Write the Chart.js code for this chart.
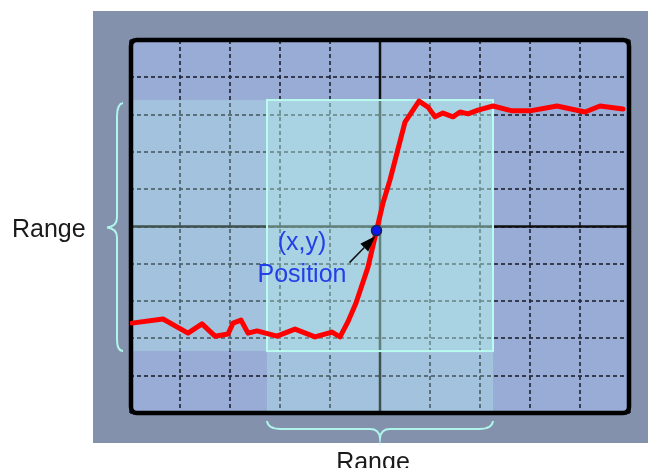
<!DOCTYPE html>
<html><head><meta charset="utf-8">
<script src="https://cdn.jsdelivr.net/npm/chart.js@4/dist/chart.umd.min.js"></script>
<style>html,body{margin:0;padding:0;background:#fff;}canvas{display:block;}</style>
</head><body>
<canvas id="c" width="648" height="468" style="width:648px;height:468px"></canvas>
<script>
// Trace (screen divisions: x 0..10, y 0..10)
const traceX = [0.04,0.66,1.16,1.44,1.70,1.96,2.06,2.22,2.36,2.54,2.94,3.30,3.70,4.04,4.20,4.36,4.52,4.76,4.93,5.06,5.20,5.50,5.78,5.96,6.10,6.26,6.46,6.60,6.76,6.96,7.26,7.64,8.00,8.54,9.10,9.40,9.86];
const traceY = [2.41,2.52,2.14,2.39,2.06,2.12,2.41,2.49,2.14,2.20,2.06,2.25,2.04,2.17,2.04,2.45,2.95,3.91,4.89,5.63,6.25,7.80,8.36,8.20,7.94,8.04,7.94,8.07,8.02,8.12,8.23,8.10,8.10,8.23,8.07,8.23,8.15];
const positionPoint = [4.93, 4.89];
const divisionsX = [0,10];
const divisionsY = [0,10];
const rangeX = [2.74, 7.26];
const rangeY = [1.66, 8.39];
const textRange = 'Range';
const textXY = '(x,y)';
const textPosition = 'Position';

const FONT = '25px "Liberation Sans", Arial, sans-serif';

function rr(ctx, x, y, w, h, r) {
  ctx.beginPath();
  ctx.moveTo(x + r, y);
  ctx.lineTo(x + w - r, y);
  ctx.quadraticCurveTo(x + w, y, x + w, y + r);
  ctx.lineTo(x + w, y + h - r);
  ctx.quadraticCurveTo(x + w, y + h, x + w - r, y + h);
  ctx.lineTo(x + r, y + h);
  ctx.quadraticCurveTo(x, y + h, x, y + h - r);
  ctx.lineTo(x, y + r);
  ctx.quadraticCurveTo(x, y, x + r, y);
  ctx.closePath();
}

const scopePlugin = {
  id: 'scope',
  beforeDraw(chart) {
    const ctx = chart.ctx, a = chart.chartArea;
    ctx.save();
    ctx.fillStyle = '#ffffff';
    ctx.fillRect(0, 0, chart.width, chart.height);
    ctx.fillStyle = '#8391ac';
    ctx.fillRect(93, 11, chart.width - 93, 432);
    ctx.fillStyle = '#99acd6';
    rr(ctx, a.left, a.top, a.right - a.left, a.bottom - a.top, 6);
    ctx.fill();
    ctx.restore();
  },
  beforeDatasetsDraw(chart) {
    const ctx = chart.ctx, a = chart.chartArea;
    const xs = chart.scales.x, ys = chart.scales.y;
    const cx = xs.getPixelForValue(5), cy = ys.getPixelForValue(5);
    ctx.save();
    ctx.strokeStyle = '#111111';
    ctx.lineWidth = 2.5;
    ctx.beginPath();
    ctx.moveTo(cx, a.top); ctx.lineTo(cx, a.bottom);
    ctx.moveTo(a.left, cy); ctx.lineTo(a.right, cy);
    ctx.stroke();
    const x0 = xs.getPixelForValue(rangeX[0]), x1 = xs.getPixelForValue(rangeX[1]);
    const y0 = ys.getPixelForValue(rangeY[1]), y1 = ys.getPixelForValue(rangeY[0]);
    ctx.fillStyle = 'rgba(190,255,240,0.27)';
    ctx.fillRect(a.left, y0, x1 - a.left, y1 - y0);
    ctx.fillRect(x0, y0, x1 - x0, a.bottom - y0);
    ctx.strokeStyle = '#b9fbef';
    ctx.lineWidth = 2;
    ctx.strokeRect(x0, y0, x1 - x0, y1 - y0);
    ctx.strokeStyle = '#000000';
    ctx.lineWidth = 4.5;
    rr(ctx, a.left + 1, a.top, a.right - a.left - 2, a.bottom - a.top, 6);
    ctx.stroke();
    ctx.restore();
  },
  afterDatasetsDraw(chart) {
    const ctx = chart.ctx, a = chart.chartArea;
    const xs = chart.scales.x, ys = chart.scales.y;
    const px = xs.getPixelForValue(positionPoint[0]), py = ys.getPixelForValue(positionPoint[1]);
    const x0 = xs.getPixelForValue(rangeX[0]), x1 = xs.getPixelForValue(rangeX[1]);
    const y0 = ys.getPixelForValue(rangeY[1]), y1 = ys.getPixelForValue(rangeY[0]);
    const cx = xs.getPixelForValue(5), cy = ys.getPixelForValue(5);
    ctx.save();
    // arrow
    const tx = px - 1, ty = py + 5.5;
    const sx = px - 27, sy = py + 32;
    const dx = tx - sx, dy = ty - sy, L = Math.hypot(dx, dy);
    const ux = dx / L, uy = dy / L;
    const bx = tx - ux * 16, by = ty - uy * 16;
    ctx.strokeStyle = '#111';
    ctx.lineWidth = 1.5;
    ctx.beginPath(); ctx.moveTo(sx, sy); ctx.lineTo(bx, by); ctx.stroke();
    ctx.fillStyle = '#000';
    ctx.beginPath();
    ctx.moveTo(tx, ty);
    ctx.lineTo(bx - uy * 5.5, by + ux * 5.5);
    ctx.lineTo(bx + uy * 5.5, by - ux * 5.5);
    ctx.closePath(); ctx.fill();
    // texts
    ctx.font = FONT;
    ctx.fillStyle = '#2340e8';
    ctx.textAlign = 'center';
    ctx.textBaseline = 'alphabetic';
    ctx.fillText(textXY, 302, 250);
    ctx.fillText(textPosition, 302, 282);
    ctx.fillStyle = '#1a1a1a';
    ctx.textAlign = 'left';
    ctx.fillText(textRange, 12, 237);
    ctx.textAlign = 'center';
    ctx.fillText(textRange, 373, 470);
    // braces
    ctx.strokeStyle = '#b0f5ea';
    ctx.lineWidth = 2;
    const bxl = 117, tipL = 107;
    ctx.beginPath();
    ctx.moveTo(bxl + 6, y0 + 3);
    ctx.quadraticCurveTo(bxl, y0 + 4, bxl, y0 + 16);
    ctx.lineTo(bxl, cy - 9);
    ctx.quadraticCurveTo(bxl, cy, tipL, cy + 1);
    ctx.quadraticCurveTo(bxl, cy + 2, bxl, cy + 11);
    ctx.lineTo(bxl, y1 - 12);
    ctx.quadraticCurveTo(bxl, y1, bxl + 6, y1);
    ctx.stroke();
    const byl = 429, tipB = 438;
    ctx.beginPath();
    ctx.moveTo(x0, byl - 8);
    ctx.quadraticCurveTo(x0 + 1, byl, x0 + 14, byl);
    ctx.lineTo(cx - 10, byl);
    ctx.quadraticCurveTo(cx - 1, byl, cx, tipB);
    ctx.quadraticCurveTo(cx + 1, byl, cx + 10, byl);
    ctx.lineTo(x1 - 14, byl);
    ctx.quadraticCurveTo(x1 - 1, byl, x1, byl - 8);
    ctx.stroke();
    ctx.restore();
  }
};

const trace = traceX.map((x, i) => ({x: x, y: traceY[i]}));
const gridCfg = {color: 'rgba(35,40,55,0.85)', lineWidth: 2, drawTicks: false};

new Chart(document.getElementById('c'), {
  type: 'line',
  data: {
    datasets: [
      {
        label: 'Position',
        data: [{x: positionPoint[0], y: positionPoint[1]}],
        showLine: false,
        pointRadius: 5,
        pointBackgroundColor: '#0c18ee',
        pointBorderColor: '#1a2050',
        pointBorderWidth: 1.5
      },
      {
        label: 'Trace',
        data: trace,
        borderColor: '#ff0000',
        borderWidth: 5,
        borderJoinStyle: 'round',
        borderCapStyle: 'round',
        tension: 0,
        pointRadius: 0,
        fill: false
      }
    ]
  },
  options: {
    responsive: false,
    animation: false,
    events: [],
    layout: {padding: {left: 130, right: 18, top: 40, bottom: 55}},
    plugins: {legend: {display: false}, tooltip: {enabled: false}},
    scales: {
      x: {type: 'linear', min: divisionsX[0], max: divisionsX[1],
          ticks: {display: false, stepSize: 1}, grid: gridCfg,
          border: {display: false, dash: [4, 3]}},
      y: {type: 'linear', min: divisionsY[0], max: divisionsY[1],
          ticks: {display: false, stepSize: 1}, grid: gridCfg,
          border: {display: false, dash: [4, 3]}}
    }
  },
  plugins: [scopePlugin]
});
</script>
</body></html>
